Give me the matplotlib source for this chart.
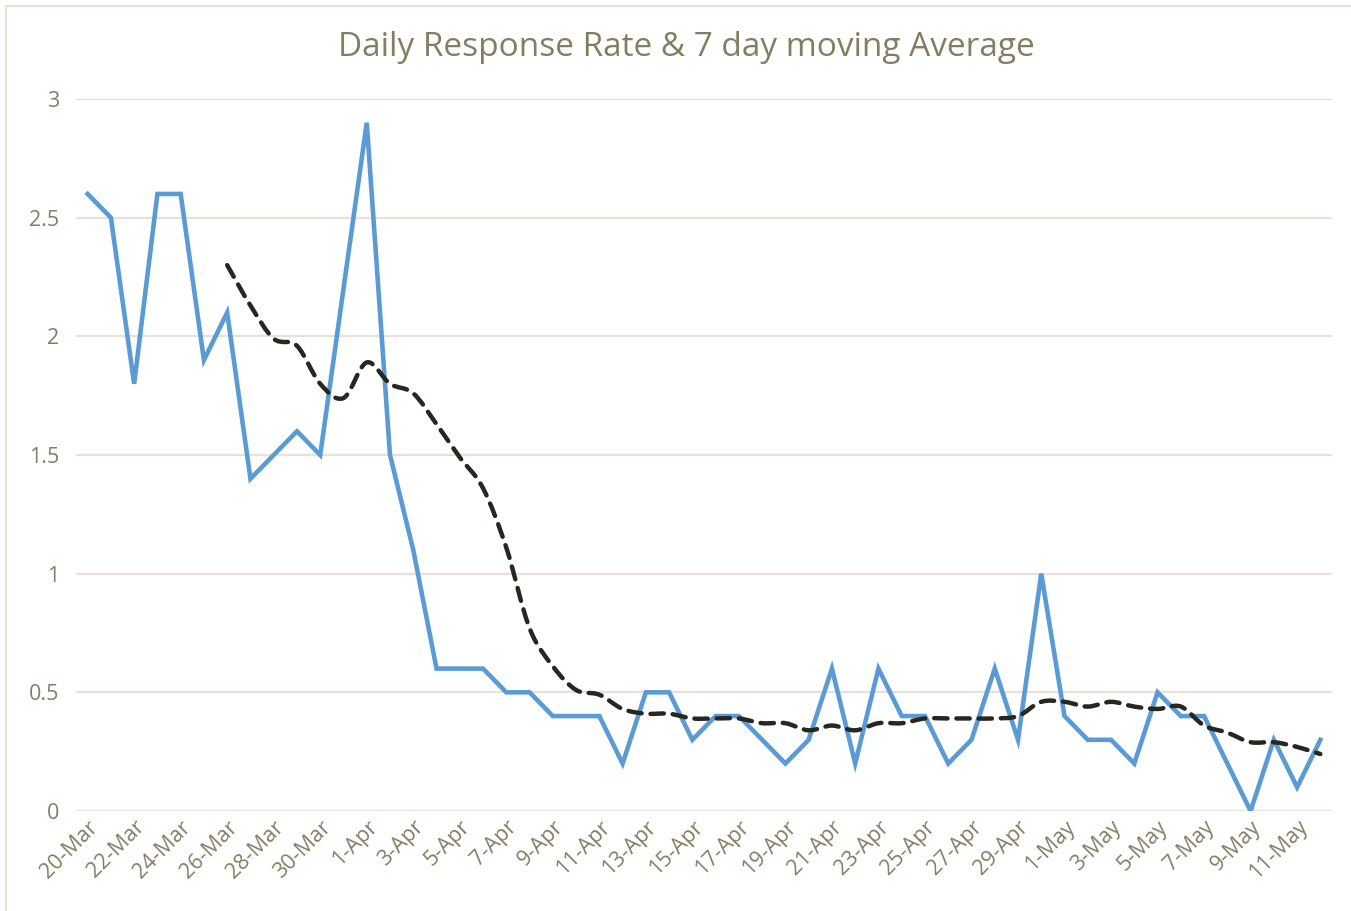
import matplotlib.pyplot as plt
import numpy as np
from matplotlib.patches import PathPatch, Rectangle
from matplotlib.path import Path

# one point per day, 20-Mar .. 12-May
DATES = (
    [f"{d}-Mar" for d in range(20, 32)]
    + [f"{d}-Apr" for d in range(1, 31)]
    + [f"{d}-May" for d in range(1, 13)]
)
DAILY_RATE = [
    2.6, 2.5, 1.8, 2.6, 2.6, 1.9, 2.1, 1.4, 1.5, 1.6, 1.5, 2.2,
    2.9, 1.5, 1.1, 0.6, 0.6, 0.6, 0.5, 0.5, 0.4, 0.4, 0.4, 0.2,
    0.5, 0.5, 0.3, 0.4, 0.4, 0.3, 0.2, 0.3, 0.6, 0.2, 0.6, 0.4,
    0.4, 0.2, 0.3, 0.6, 0.3, 1.0,
    0.4, 0.3, 0.3, 0.2, 0.5, 0.4, 0.4, 0.2, 0.0, 0.3, 0.1, 0.3,
]
MOVING_AVG = [
    None, None, None, None, None, None,
    2.30, 2.13, 1.99, 1.96, 1.80, 1.74, 1.89, 1.80, 1.76, 1.63,
    1.49, 1.36, 1.11, 0.77, 0.61, 0.51, 0.49, 0.43, 0.41, 0.41,
    0.39, 0.39, 0.39, 0.37, 0.37, 0.34, 0.36, 0.34, 0.37, 0.37,
    0.39, 0.39, 0.39, 0.39, 0.40, 0.46, 0.46, 0.44, 0.46, 0.44,
    0.43, 0.44, 0.36, 0.33, 0.29, 0.29, 0.27, 0.24,
]

TEXT_COLOR = "#857D62"
GRID_COLOR = "#E6E2D9"
BLUE = "#5B9BD5"
DARK = "#27261F"

plt.rcParams["font.family"] = ["Open Sans", "DejaVu Sans"]


def smooth_path(xs, ys):
    # Catmull-Rom style bezier, like a spreadsheet "smoothed line"
    verts = [(xs[0], ys[0])]
    codes = [Path.MOVETO]
    n = len(xs)
    for i in range(n - 1):
        x0, y0 = (xs[i - 1], ys[i - 1]) if i > 0 else (xs[i], ys[i])
        x1, y1 = xs[i], ys[i]
        x2, y2 = xs[i + 1], ys[i + 1]
        x3, y3 = (xs[i + 2], ys[i + 2]) if i + 2 < n else (x2, y2)
        c1 = (x1 + (x2 - x0) / 6, y1 + (y2 - y0) / 6)
        c2 = (x2 - (x3 - x1) / 6, y2 - (y3 - y1) / 6)
        verts += [c1, c2, (x2, y2)]
        codes += [Path.CURVE4] * 3
    return Path(verts, codes)


fig = plt.figure(figsize=(13.51, 9.11), dpi=100)
fig.patches.append(Rectangle((6 / 1351, -0.1), 1.2, 1 - 6 / 911 + 0.1,
                             transform=fig.transFigure, fill=False,
                             edgecolor=GRID_COLOR, linewidth=1.5))
ax = fig.add_axes([76 / 1351, 100 / 911, (1332 - 76) / 1351, 712 / 911])

x = np.arange(len(DATES))
ax.plot(x, DAILY_RATE, color=BLUE, linewidth=3.3, solid_joinstyle="miter", zorder=3)

ma_idx = [i for i, v in enumerate(MOVING_AVG) if v is not None]
ma_vals = [MOVING_AVG[i] for i in ma_idx]
ax.add_patch(PathPatch(smooth_path(ma_idx, ma_vals), fill=False, edgecolor=DARK,
                       linewidth=3.2, linestyle=(0, (3.0, 2.0)), capstyle="round",
                       zorder=4))

ax.set_xlim(-0.5, len(DATES) - 0.5)
ax.set_ylim(0, 3)
ax.set_yticks([0, 0.5, 1, 1.5, 2, 2.5, 3])
ax.set_yticklabels(["0", "0.5", "1", "1.5", "2", "2.5", "3"])
ax.set_xticks(x[::2])
ax.set_xticklabels(DATES[::2], rotation=45, ha="right", rotation_mode="anchor")

ax.grid(axis="y", color=GRID_COLOR, linewidth=1.6)
ax.set_axisbelow(True)
for side in ["top", "right", "left", "bottom"]:
    ax.spines[side].set_visible(False)
ax.tick_params(axis="y", length=0, colors=TEXT_COLOR, labelsize=15.5, pad=12)
ax.tick_params(axis="x", length=0, colors=TEXT_COLOR, labelsize=15.5, pad=4)

fig.text(0.508, 1 - 48 / 911, "Daily Response Rate & 7 day moving Average",
         ha="center", va="center", fontsize=24, color=TEXT_COLOR)

fig.savefig("out.png", dpi=100)
